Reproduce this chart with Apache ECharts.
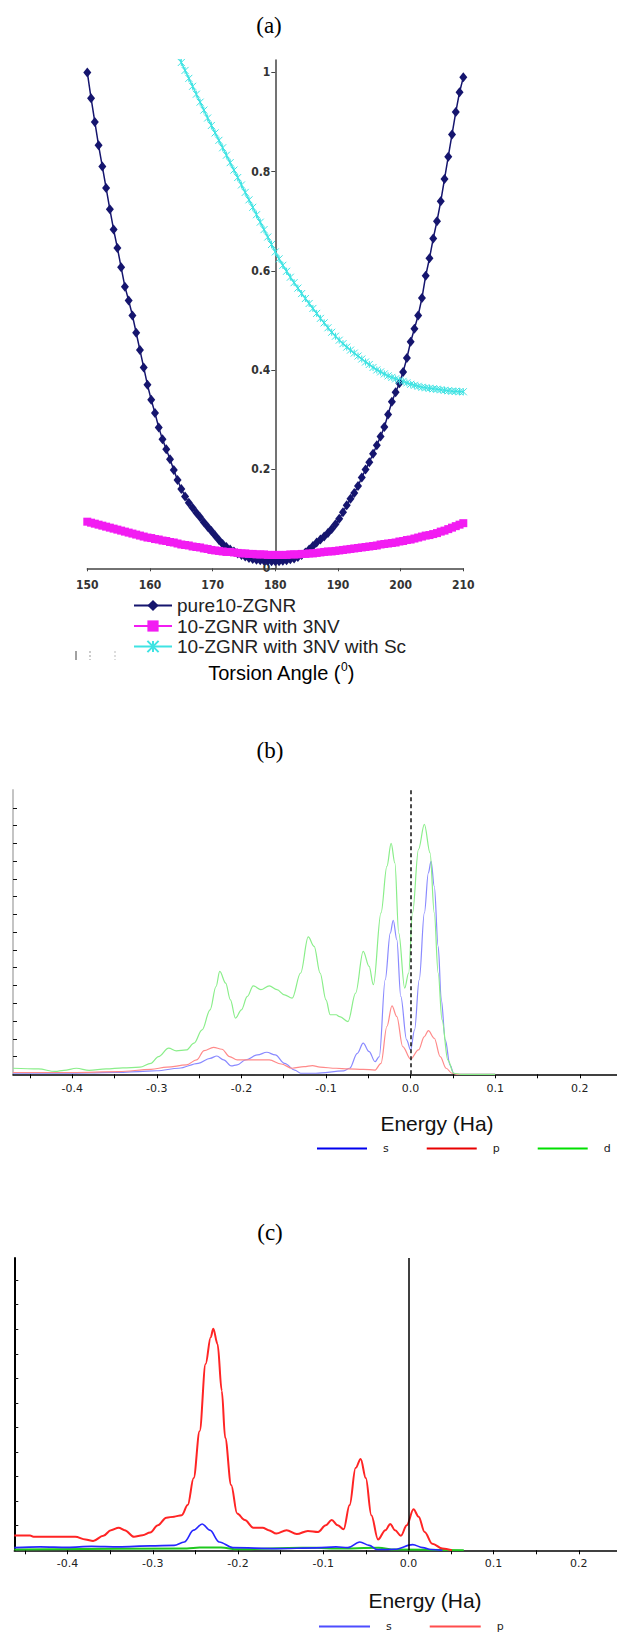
<!DOCTYPE html>
<html>
<head>
<meta charset="utf-8">
<script src="https://cdn.jsdelivr.net/npm/echarts@6/dist/echarts.min.js"></script>
<style>
  html, body { margin: 0; padding: 0; background: #fff; }
  #main { width: 617px; height: 1636px; }
</style>
</head>
<body>
<div id="main"></div>
<script>
// (a) torsion angle scan, one point every 0.6 degree
var angleA = [150,150.6,151.2,151.8,152.4,153,153.6,154.2,154.8,155.4,156,156.6,157.2,157.8,158.4,159,159.6,160.2,160.8,161.4,
  162,162.6,163.2,163.8,164.4,165,165.6,166.2,166.8,167.4,168,168.6,169.2,169.8,170.4,171,171.6,172.2,172.8,173.4,
  174,174.6,175.2,175.8,176.4,177,177.6,178.2,178.8,179.4,180,180.6,181.2,181.8,182.4,183,183.6,184.2,184.8,185.4,
  186,186.6,187.2,187.8,188.4,189,189.6,190.2,190.8,191.4,192,192.6,193.2,193.8,194.4,195,195.6,196.2,196.8,197.4,
  198,198.6,199.2,199.8,200.4,201,201.6,202.2,202.8,203.4,204,204.6,205.2,205.8,206.4,207,207.6,208.2,208.8,209.4,210];

var pureY = [1.0,0.948,0.9,0.853,0.81,0.767,0.724,0.683,0.646,0.607,0.568,0.54,0.51,0.475,0.44,0.405,0.37,0.34,0.313,0.284,
  0.26,0.24,0.22,0.198,0.178,0.16,0.145,0.132,0.122,0.112,0.103,0.093,0.084,0.075,0.066,0.057,0.049,0.043,0.038,0.034,
  0.03,0.027,0.024,0.021,0.019,0.017,0.016,0.015,0.015,0.014,0.014,
  0.014,0.015,0.016,0.018,0.02,0.023,0.027,0.032,0.038,0.045,0.052,0.058,0.064,0.071,0.079,0.089,0.1,0.113,0.127,0.14,
  0.152,0.166,0.183,0.199,0.214,0.231,0.248,0.266,0.285,0.31,0.336,0.355,0.373,0.396,0.424,0.457,0.483,0.51,0.545,0.59,
  0.625,0.665,0.7,0.74,0.785,0.83,0.875,0.92,0.96,0.99];

var nvY = [0.094,0.092,0.09,0.088,0.086,0.084,0.082,0.08,0.078,0.076,0.074,0.072,0.07,0.068,0.066,0.064,0.062,0.061,0.059,0.058,
  0.056,0.055,0.053,0.052,0.05,0.048,0.047,0.046,0.044,0.043,0.042,0.04,0.039,0.037,0.036,0.035,0.034,0.033,0.033,0.032,
  0.031,0.03,0.03,0.029,0.029,0.028,0.028,0.028,0.027,0.027,0.027,
  0.027,0.027,0.027,0.028,0.028,0.028,0.029,0.029,0.03,0.03,0.031,0.032,0.033,0.034,0.034,0.035,0.036,0.037,0.038,0.039,
  0.04,0.041,0.042,0.043,0.044,0.045,0.046,0.048,0.049,0.05,0.051,0.052,0.054,0.055,0.057,0.058,0.06,0.062,0.064,0.066,
  0.067,0.069,0.071,0.074,0.076,0.079,0.082,0.085,0.088,0.091];

var scY = [null,null,null,null,null,null,null,null,null,null,null,null,null,null,null,null,null,null,null,null,
  null,null,null,1.052,1.036,1.02,1.004,0.988,0.972,0.956,0.94,0.924,0.908,0.893,0.878,0.863,0.848,0.833,0.818,0.803,
  0.788,0.773,0.758,0.743,0.728,0.713,0.698,0.683,0.668,0.653,0.638,
  0.624,0.611,0.599,0.587,0.576,0.565,0.554,0.544,0.534,0.524,0.514,0.504,0.495,0.485,0.476,0.468,0.46,0.453,0.446,0.44,
  0.434,0.428,0.422,0.416,0.411,0.405,0.4,0.396,0.392,0.388,0.385,0.382,0.379,0.377,0.374,0.371,0.369,0.367,0.365,0.364,
  0.363,0.362,0.361,0.36,0.359,0.358,0.357,0.357,0.356,0.356];

var namesA = ['pure10-ZGNR', '10-ZGNR with 3NV', '10-ZGNR with 3NV with Sc'];

// (b) PDOS  [energy (Ha), DOS]
var dosB_s = [[-0.47,0.06],[-0.44,0.07],[-0.41,0.06],[-0.38,0.08],[-0.35,0.1],[-0.321,0.15],[-0.3,0.2],[-0.274,0.34],[-0.251,0.62],
  [-0.237,0.9],[-0.229,1.03],[-0.221,0.81],[-0.212,0.47],[-0.205,0.53],[-0.195,0.81],[-0.181,1.09],[-0.17,1.24],[-0.16,1.09],
  [-0.149,0.62],[-0.137,0.24],[-0.13,0.06],[-0.112,0.06],[-0.079,0.19],[-0.072,0.34],[-0.063,1.18],[-0.056,1.75],[-0.049,1.28],
  [-0.042,0.71],[-0.037,1.0],[-0.03,5.32],[-0.024,7.95],[-0.0205,8.67],[-0.0163,7.58],[-0.0116,4.38],[-0.0047,1.94],[0,1.37],
  [0.0047,2.5],[0.0102,5.32],[0.0163,9.08],[0.021,11.33],[0.0242,11.99],[0.028,10.58],[0.0326,7.2],[0.0363,4.19],[0.041,1.94],
  [0.0465,0.53],[0.051,0.06],[0.055,0],[0.1,0]];
var dosB_p = [[-0.47,0.1],[-0.4,0.1],[-0.345,0.15],[-0.307,0.28],[-0.288,0.4],[-0.265,0.53],[-0.253,0.81],[-0.244,1.33],[-0.233,1.52],
  [-0.223,1.41],[-0.214,1.0],[-0.205,0.81],[-0.186,0.81],[-0.167,0.81],[-0.153,0.58],[-0.14,0.34],[-0.126,0.43],[-0.116,0.49],
  [-0.107,0.4],[-0.088,0.34],[-0.074,0.3],[-0.056,0.28],[-0.042,0.24],[-0.035,0.62],[-0.028,2.69],[-0.022,3.85],[-0.0163,3.25],
  [-0.0093,1.56],[0,0.86],[0.0093,1.37],[0.0163,2.12],[0.021,2.46],[0.028,2.03],[0.035,1.0],[0.042,0.34],[0.049,0.06],[0.055,0],[0.1,0]];
var dosB_d = [[-0.47,0.34],[-0.44,0.3],[-0.42,0.16],[-0.41,0.22],[-0.395,0.34],[-0.38,0.22],[-0.36,0.3],[-0.34,0.36],[-0.32,0.4],
  [-0.307,0.62],[-0.298,1.0],[-0.286,1.47],[-0.277,1.32],[-0.265,1.37],[-0.256,1.75],[-0.2465,2.5],[-0.237,3.63],[-0.23,4.94],
  [-0.2256,5.79],[-0.2186,5.13],[-0.213,4.19],[-0.207,3.16],[-0.2,3.63],[-0.193,4.38],[-0.186,4.98],[-0.177,4.76],[-0.167,4.98],
  [-0.158,4.76],[-0.149,4.47],[-0.14,4.29],[-0.13,5.7],[-0.121,7.73],[-0.114,7.2],[-0.107,5.7],[-0.1,4.19],[-0.095,3.35],
  [-0.088,3.35],[-0.084,3.25],[-0.074,2.97],[-0.065,4.57],[-0.056,6.92],[-0.049,6.07],[-0.044,5.04],[-0.035,9.08],[-0.028,11.7],
  [-0.023,13.0],[-0.0186,11.9],[-0.014,7.95],[-0.007,4.85],[-0.0023,5.7],[0.0023,9.08],[0.0093,12.65],[0.0163,14.06],[0.023,12.46],
  [0.028,9.08],[0.0326,5.7],[0.0372,3.06],[0.044,0.81],[0.051,0.06],[0.06,0],[0.1,0]];

// (c) PDOS
var dosC_s = [[-0.4625,0.11],[-0.432,0.14],[-0.4,0.12],[-0.372,0.16],[-0.34,0.14],[-0.303,0.18],[-0.275,0.2],[-0.263,0.34],
  [-0.252,0.82],[-0.242,1.07],[-0.233,0.82],[-0.222,0.34],[-0.206,0.11],[-0.155,0.07],[-0.108,0.1],[-0.085,0.14],[-0.071,0.11],
  [-0.057,0.34],[-0.046,0.2],[-0.037,0.03],[-0.016,0.04],[0.005,0.23],[0.017,0.11],[0.026,0.03],[0.04,0]];
var dosC_p = [[-0.4625,0.6],[-0.444,0.6],[-0.44,0.55],[-0.391,0.55],[-0.379,0.44],[-0.37,0.38],[-0.358,0.59],[-0.349,0.82],
  [-0.34,0.92],[-0.333,0.82],[-0.322,0.55],[-0.312,0.61],[-0.303,0.72],[-0.294,1.02],[-0.284,1.33],[-0.275,1.37],[-0.266,1.43],
  [-0.259,1.84],[-0.252,2.94],[-0.245,4.85],[-0.238,7.58],[-0.232,8.67],[-0.229,9.02],[-0.224,8.4],[-0.219,6.49],[-0.215,4.58],
  [-0.208,2.66],[-0.201,1.5],[-0.192,1.23],[-0.182,0.92],[-0.171,0.92],[-0.164,0.82],[-0.155,0.68],[-0.143,0.82],[-0.131,0.66],
  [-0.118,0.79],[-0.106,0.75],[-0.097,1.02],[-0.09,1.23],[-0.083,1.02],[-0.076,0.86],[-0.069,1.84],[-0.062,3.35],[-0.056,3.72],
  [-0.05,2.94],[-0.0435,1.43],[-0.0356,0.44],[-0.027,0.82],[-0.0213,1.07],[-0.0157,0.82],[-0.0088,0.59],[-0.0019,1.02],
  [0.006,1.67],[0.012,1.37],[0.019,0.75],[0.028,0.27],[0.04,0.07],[0.051,0]];
var dosC_d = [[-0.4625,0.03],[-0.26,0.07],[-0.245,0.11],[-0.22,0.11],[-0.2,0.04],[-0.125,0.1],[-0.108,0.1],[-0.085,0.07],
  [-0.035,0.1],[-0.016,0.03],[0.065,0]];

var eTicks = [-0.45,-0.4,-0.35,-0.3,-0.25,-0.2,-0.15,-0.1,-0.05,0,0.05,0.1,0.15,0.2];
var eLabels = [-0.4,-0.3,-0.2,-0.1,0,0.1,0.2];
var yTicksB = [1,2,3,4,5,6,7,8,9,10,11,12,13,14,15];
var yTicksC = [1,2,3,4,5,6,7,8,9,10,11];
var yTicksA = [0,0.2,0.4,0.6,0.8,1];

var chart = echarts.init(document.getElementById('main'), null, {renderer: 'svg'});

var narrow = '"Liberation Sans Narrow","DejaVu Sans Condensed","Liberation Sans",Arial,sans-serif';
var sans = '"Liberation Sans",Arial,sans-serif';
var serif = '"Liberation Serif","Times New Roman",serif';

function toPairs(ys) {
  return angleA.map(function (a, i) { return [a - 180, ys[i]]; })
               .filter(function (p) { return p[1] !== null; });
}

function energyAxis(idx, min, max, margin) {
  return {
    gridIndex: idx, type: 'value', min: min, max: max,
    axisLine: {onZero: false, lineStyle: {color: '#000', width: 1.5}},
    axisTick: {show: true, length: 4, customValues: eTicks, lineStyle: {color: '#000'}},
    axisLabel: {customValues: eLabels, margin: margin, color: '#222', fontSize: 11,
      fontFamily: '"DejaVu Sans",Verdana,sans-serif',
      formatter: function (v) { return v.toFixed(1); }},
    splitLine: {show: false}
  };
}

function dosAxis(idx, max, ticks, lineColor) {
  return {
    gridIndex: idx, type: 'value', min: 0, max: max,
    axisLine: {show: true, onZero: false, lineStyle: {color: lineColor, width: 2}},
    axisTick: {show: true, inside: true, length: 4, customValues: ticks, lineStyle: {color: '#111'}},
    axisLabel: {show: false},
    splitLine: {show: false}
  };
}

function dosLine(name, data, xi, color, width) {
  return {
    name: name, type: 'line', xAxisIndex: xi, yAxisIndex: xi, data: data,
    symbol: 'none', smooth: 0.35, smoothMonotone: 'x',
    lineStyle: {color: color, width: width}, itemStyle: {color: color}
  };
}

var option = {
  animation: false,
  backgroundColor: '#fff',
  grid: [
    {left: 87.3, width: 376, top: 60, height: 508.3, outerBoundsMode: 'none'},
    {left: 13, right: 0, top: 790, height: 284.3, outerBoundsMode: 'none'},
    {left: 14.3, right: 0, top: 1258, height: 292.3, outerBoundsMode: 'none'}
  ],
  xAxis: [
    {
      gridIndex: 0, type: 'value', min: -30, max: 30, interval: 10,
      axisLine: {onZero: false, lineStyle: {color: '#444', width: 1.5}},
      axisTick: {show: true, length: 3, lineStyle: {color: '#444'}},
      axisLabel: {margin: 11, color: '#333', fontSize: 12, fontWeight: 'bold', fontFamily: narrow,
        formatter: function (v) { return String(v + 180); }},
      splitLine: {show: false}
    },
    energyAxis(1, -0.47, 0.244, 9),
    energyAxis(2, -0.4625, 0.2448, 8)
  ],
  yAxis: [
    {
      // the value axis stands at 180 degrees, in the middle of the plot
      gridIndex: 0, type: 'value', min: 0, max: 1.025, offset: -188,
      axisLine: {show: true, onZero: false, lineStyle: {color: '#444', width: 1.5}},
      axisTick: {show: true, length: 4, customValues: yTicksA, lineStyle: {color: '#444'}},
      axisLabel: {customValues: yTicksA, margin: 5, color: '#333', fontSize: 12, fontWeight: 'bold', fontFamily: narrow},
      splitLine: {show: false}
    },
    dosAxis(1, 16, yTicksB, '#c4c4c4'),
    dosAxis(2, 11.9, yTicksC, '#000')
  ],
  legend: [
    {
      data: namesA, orient: 'vertical', left: 133, top: 596, padding: 0,
      itemWidth: 38, itemHeight: 14, itemGap: 1.5,
      textStyle: {fontFamily: sans, fontSize: 19, color: '#222', lineHeight: 19}
    },
    {
      data: [
        {name: 's', icon: 'rect', itemStyle: {color: '#0000ee', borderWidth: 0}},
        {name: 'p', icon: 'rect', itemStyle: {color: '#e80000', borderWidth: 0}},
        {name: 'd', icon: 'rect', itemStyle: {color: '#00e000', borderWidth: 0}}
      ],
      left: 317, top: 1143, width: 300, padding: 0, itemWidth: 50, itemHeight: 2, itemGap: 38,
      textStyle: {fontFamily: '"DejaVu Sans",sans-serif', fontSize: 11, color: '#222', padding: [0, 0, 0, 11]}
    },
    {
      data: [
        {name: 's', icon: 'rect', itemStyle: {color: '#4d4dff', borderWidth: 0}},
        {name: 'p', icon: 'rect', itemStyle: {color: '#ff4d4d', borderWidth: 0}}
      ],
      left: 319, top: 1621, width: 298, padding: 0, itemWidth: 51, itemHeight: 2, itemGap: 38,
      textStyle: {fontFamily: '"DejaVu Sans",sans-serif', fontSize: 11, color: '#222', padding: [0, 0, 0, 11]}
    }
  ],
  series: [
    {
      name: namesA[0], type: 'line', xAxisIndex: 0, yAxisIndex: 0, data: toPairs(pureY),
      symbol: 'diamond', symbolSize: [8, 10],
      lineStyle: {color: '#15156e', width: 1.5}, itemStyle: {color: '#15156e'}
    },
    {
      name: namesA[1], type: 'line', xAxisIndex: 0, yAxisIndex: 0, data: toPairs(nvY),
      symbol: 'rect', symbolSize: 8,
      lineStyle: {color: '#f21cf2', width: 2}, itemStyle: {color: '#f21cf2'}
    },
    {
      name: namesA[2], type: 'line', xAxisIndex: 0, yAxisIndex: 0, data: toPairs(scY),
      symbol: 'path://M0,0L10,10M10,0L0,10M5,0L5,10', symbolSize: 7,
      lineStyle: {color: '#3fe3e3', width: 1.5},
      itemStyle: {color: '#3fe3e3', borderColor: '#3fe3e3', borderWidth: 1}
    },
    dosLine('s', dosB_s, 1, '#8a8aff', 1.2),
    dosLine('p', dosB_p, 1, '#ff8a8a', 1.2),
    Object.assign(dosLine('d', dosB_d, 1, '#8aee8a', 1.2), {
      markLine: {
        silent: true, symbol: ['none', 'none'], label: {show: false},
        lineStyle: {color: '#111', width: 1.5, type: [4, 3]},
        data: [{xAxis: 0}]
      }
    }),
    dosLine('d', dosC_d, 2, '#1ec81e', 2),
    dosLine('s', dosC_s, 2, '#2626ff', 1.6),
    Object.assign(dosLine('p', dosC_p, 2, '#ff2424', 2), {
      markLine: {
        silent: true, symbol: ['none', 'none'], label: {show: false},
        lineStyle: {color: '#000', width: 1.5, type: 'solid'},
        data: [{xAxis: 0}]
      }
    })
  ],
  graphic: [
    {type: 'text', style: {text: '(a)', x: 269, y: 25, align: 'center', verticalAlign: 'middle',
      font: '23px ' + serif, fill: '#000'}},
    {type: 'text', style: {text: '(b)', x: 270, y: 750, align: 'center', verticalAlign: 'middle',
      font: '23px ' + serif, fill: '#000'}},
    {type: 'text', style: {text: '(c)', x: 270, y: 1232, align: 'center', verticalAlign: 'middle',
      font: '23px ' + serif, fill: '#000'}},
    {type: 'text', style: {
      text: '{m|Torsion Angle (}{s|0}{m|)}', x: 281, y: 673, align: 'center', verticalAlign: 'middle',
      rich: {
        m: {fontSize: 20, fontFamily: sans, lineHeight: 24, color: '#111'},
        s: {fontSize: 12, fontFamily: sans, lineHeight: 13, verticalAlign: 'top', color: '#111'}
      }
    }},
    {type: 'text', style: {text: 'Energy (Ha)', x: 437, y: 1123, align: 'center', verticalAlign: 'middle',
      font: '21px ' + sans, fill: '#111'}},
    {type: 'text', style: {text: 'Energy (Ha)', x: 425, y: 1600, align: 'center', verticalAlign: 'middle',
      font: '21px ' + sans, fill: '#111'}},
    {type: 'line', shape: {x1: 76, y1: 651, x2: 76, y2: 660}, style: {stroke: '#444', lineWidth: 1}},
    {type: 'line', shape: {x1: 90, y1: 651, x2: 90, y2: 660}, style: {stroke: '#999', lineWidth: 1, lineDash: [2, 2]}},
    {type: 'line', shape: {x1: 115, y1: 651, x2: 115, y2: 660}, style: {stroke: '#bbb', lineWidth: 1, lineDash: [2, 2]}}
  ]
};

chart.setOption(option);
</script>
</body>
</html>
